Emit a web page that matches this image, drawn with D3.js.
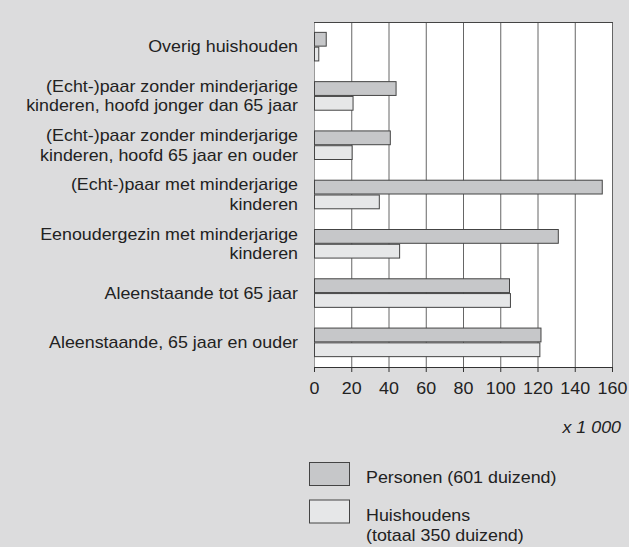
<!DOCTYPE html>
<html>
<head>
<meta charset="utf-8">
<script src="https://cdn.jsdelivr.net/npm/d3@7"></script>
<style>
  body { margin: 0; background: #dcdcdd; }
  svg { display: block; font-family: "Liberation Sans", Arial, sans-serif; }
</style>
</head>
<body>
<svg id="chart"></svg>
<script>
const categories = [
  ["Overig huishouden"],
  ["(Echt-)paar zonder minderjarige", "kinderen, hoofd jonger dan 65 jaar"],
  ["(Echt-)paar zonder minderjarige", "kinderen, hoofd 65 jaar en ouder"],
  ["(Echt-)paar met minderjarige", "kinderen"],
  ["Eenoudergezin met minderjarige", "kinderen"],
  ["Aleenstaande tot 65 jaar"],
  ["Aleenstaande, 65 jaar en ouder"],
];
const personen = [6.3, 43.8, 40.7, 154.5, 130.9, 104.7, 121.6];
const huishoudens = [2.3, 20.7, 20.2, 34.8, 45.7, 105.2, 121.0];
const ticks = [0, 20, 40, 60, 80, 100, 120, 140, 160];
const seriesNames = ["Personen (601 duizend)", ["Huishoudens", "(totaal 350 duizend)"]];

const width = 629;
const height = 547;
const plot = { left: 314, right: 612, top: 22, bottom: 367 };
const colors = ["#c6c7c9", "#e6e7e8"];
const fontSize = 17;
const stretch = 1.05;

const svg = d3.select("#chart").attr("width", width).attr("height", height);

svg.append("rect")
  .attr("width", width).attr("height", height)
  .attr("fill", "#dcdcdd");

const x = d3.scaleLinear().domain([0, 160]).range([plot.left, plot.right]);
const y = d3.scaleBand()
  .domain(categories.map((d, i) => i))
  .range([plot.top, plot.bottom])
  .paddingInner(0.4)
  .paddingOuter(0.2);
const sub = d3.scaleBand().domain([0, 1]).range([0, y.bandwidth()]);

// plot background
svg.append("rect")
  .attr("x", plot.left).attr("y", plot.top)
  .attr("width", plot.right - plot.left).attr("height", plot.bottom - plot.top)
  .attr("fill", "#fff");

// grid
svg.append("g")
  .selectAll("line")
  .data(ticks)
  .join("line")
  .attr("x1", (d) => x(d) + 0.5).attr("x2", (d) => x(d) + 0.5)
  .attr("y1", plot.top).attr("y2", plot.bottom)
  .attr("stroke", (d) => (d === 0 ? "#999" : "#666"))
  .attr("stroke-width", 1);

svg.append("line")
  .attr("x1", plot.left).attr("x2", plot.right + 1)
  .attr("y1", plot.top + 0.5).attr("y2", plot.top + 0.5)
  .attr("stroke", "#444");

// bars
const rows = categories.map((c, i) => ({ i, values: [personen[i], huishoudens[i]] }));
svg.append("g")
  .selectAll("g")
  .data(rows)
  .join("g")
  .attr("transform", (d) => `translate(0, ${y(d.i)})`)
  .selectAll("rect")
  .data((d) => d.values)
  .join("rect")
  .attr("x", x(0) + 0.5)
  .attr("y", (d, j) => sub(j) + 0.5)
  .attr("width", (d) => x(d) - x(0))
  .attr("height", sub.bandwidth() - 1)
  .attr("fill", (d, j) => colors[j])
  .attr("stroke", "#444")
  .attr("stroke-width", 1);

// x axis
const xAxis = svg.append("g")
  .attr("transform", `translate(0, ${plot.bottom})`)
  .call(d3.axisBottom(x).tickValues(ticks).tickSize(5).tickPadding(10).tickSizeOuter(0));
xAxis.select(".domain").attr("stroke", "#333");
xAxis.selectAll(".tick line").attr("stroke", "#333");
xAxis.selectAll(".tick text")
  .attr("font-size", fontSize).attr("fill", "#222").attr("font-family", null)
  .attr("transform", `scale(${stretch},1)`);

// category labels
const labels = svg.append("g")
  .selectAll("text")
  .data(categories)
  .join("text")
  .attr("text-anchor", "end")
  .attr("font-size", fontSize)
  .attr("fill", "#222")
  .attr("transform", (d, i) => `translate(298, ${y(i) + y.bandwidth() / 2}) scale(${stretch},1)`);
labels.selectAll("tspan")
  .data((d) => d.map((t, k) => ({ t, k, n: d.length })))
  .join("tspan")
  .attr("x", 0)
  .attr("dy", (d) => (d.k === 0 ? `${0.33 - (d.n - 1) * 0.575}em` : "1.15em"))
  .text((d) => d.t);

svg.append("text")
  .attr("transform", `translate(621, 433) scale(${stretch},1)`)
  .attr("text-anchor", "end")
  .attr("font-size", fontSize)
  .attr("font-style", "italic")
  .attr("fill", "#222")
  .text("x 1 000");

// legend
const legend = svg.append("g")
  .selectAll("g")
  .data(seriesNames)
  .join("g")
  .attr("transform", (d, i) => `translate(309.5, ${462.5 + i * 37.5})`);
legend.append("rect")
  .attr("width", 40).attr("height", 23)
  .attr("fill", (d, i) => colors[i])
  .attr("stroke", "#444");
legend.append("text")
  .attr("font-size", fontSize)
  .attr("fill", "#222")
  .attr("transform", `translate(56.5, 0) scale(${stretch},1)`)
  .selectAll("tspan")
  .data((d) => (Array.isArray(d) ? d : [d]))
  .join("tspan")
  .attr("x", 0)
  .attr("y", (d, k) => 21 + k * 20)
  .text((d) => d);
</script>
</body>
</html>
